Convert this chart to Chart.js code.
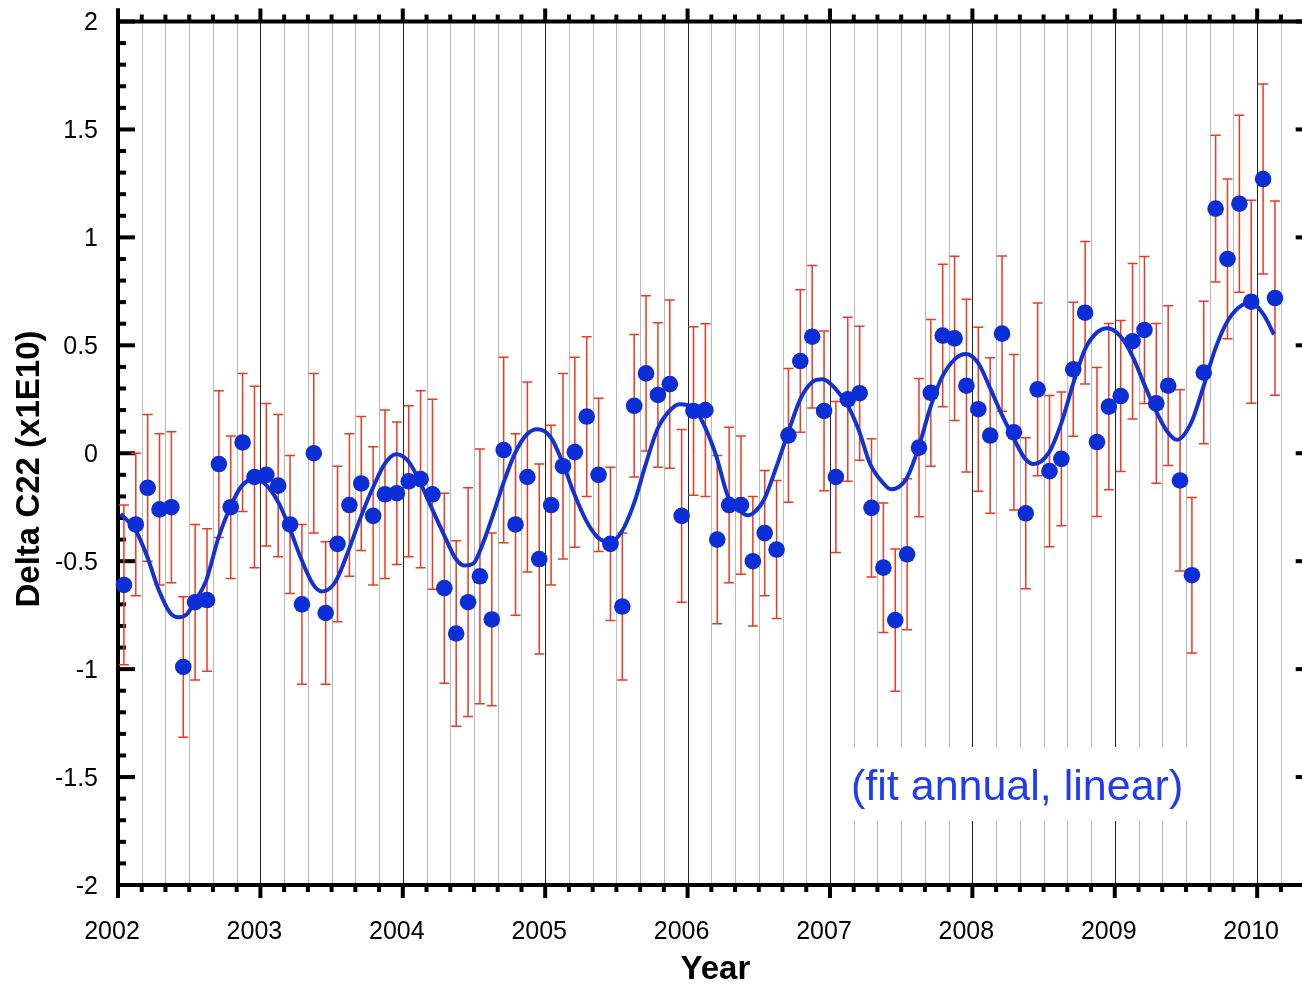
<!DOCTYPE html>
<html><head><meta charset="utf-8">
<script src="https://cdn.jsdelivr.net/npm/chart.js@4.4.1/dist/chart.umd.min.js"></script>
<style>
html,body{margin:0;padding:0;background:#fff;overflow:hidden;}
#wrap{position:absolute;left:0;top:0;width:1302px;height:990px;overflow:hidden;background:#fff;}
canvas{display:block;}
</style></head><body>
<div id="wrap"><canvas id="c" width="1330" height="990" style="width:1330px;height:990px"></canvas></div>
<script>
// ---- data ----
const months = [
 '2002-01','2002-02','2002-03','2002-04','2002-05','2002-06','2002-07','2002-08','2002-09','2002-10','2002-11','2002-12',
 '2003-01','2003-02','2003-03','2003-04','2003-05','2003-06','2003-07','2003-08','2003-09','2003-10','2003-11','2003-12',
 '2004-01','2004-02','2004-03','2004-04','2004-05','2004-06','2004-07','2004-08','2004-09','2004-10','2004-11','2004-12',
 '2005-01','2005-02','2005-03','2005-04','2005-05','2005-06','2005-07','2005-08','2005-09','2005-10','2005-11','2005-12',
 '2006-01','2006-02','2006-03','2006-04','2006-05','2006-06','2006-07','2006-08','2006-09','2006-10','2006-11','2006-12',
 '2007-01','2007-02','2007-03','2007-04','2007-05','2007-06','2007-07','2007-08','2007-09','2007-10','2007-11','2007-12',
 '2008-01','2008-02','2008-03','2008-04','2008-05','2008-06','2008-07','2008-08','2008-09','2008-10','2008-11','2008-12',
 '2009-01','2009-02','2009-03','2009-04','2009-05','2009-06','2009-07','2009-08','2009-09','2009-10','2009-11','2009-12',
 '2010-01','2010-02'
];
const deltaC22 = [
 -0.61,-0.33,-0.16,-0.26,-0.25,-0.99,-0.69,-0.68,-0.05,-0.25,0.05,-0.11,
 -0.10,-0.15,-0.33,-0.70,0.00,-0.74,-0.42,-0.24,-0.14,-0.29,-0.19,-0.185,
 -0.13,-0.12,-0.19,-0.625,-0.835,-0.69,-0.57,-0.77,0.015,-0.33,-0.11,-0.49,
 -0.24,-0.06,0.005,0.17,-0.10,-0.42,-0.71,0.22,0.37,0.27,0.32,-0.29,
 0.196,0.20,-0.40,-0.24,-0.24,-0.50,-0.37,-0.446,0.083,0.427,0.54,0.196,
 -0.11,0.25,0.278,-0.253,-0.53,-0.773,-0.468,0.026,0.28,0.545,0.532,0.313,
 0.204,0.082,0.554,0.097,-0.278,0.296,-0.083,-0.026,0.389,0.651,0.052,0.216,
 0.265,0.519,0.571,0.231,0.313,-0.126,-0.565,0.374,1.133,0.90,1.156,0.702,
 1.27,0.719
];
const errC22 = [
 0.37,0.33,0.34,0.35,0.35,0.325,0.36,0.33,0.34,0.33,0.32,0.42,
 0.33,0.33,0.32,0.37,0.37,0.33,0.36,0.33,0.31,0.32,0.39,0.33,
 0.35,0.41,0.44,0.44,0.43,0.53,0.59,0.40,0.43,0.42,0.44,0.44,
 0.37,0.43,0.44,0.37,0.355,0.355,0.34,0.33,0.36,0.335,0.39,0.40,
 0.39,0.40,0.39,0.36,0.32,0.30,0.29,0.32,0.31,0.33,0.33,0.37,
 0.35,0.38,0.31,0.32,0.30,0.33,0.35,0.32,0.34,0.33,0.38,0.40,
 0.38,0.36,0.36,0.36,0.35,0.40,0.35,0.31,0.31,0.33,0.345,0.385,
 0.35,0.36,0.34,0.37,0.37,0.42,0.36,0.33,0.34,0.37,0.41,0.47,
 0.44,0.45
];
const fitYears = [
 2002.02,2002.126,2002.203,2002.284,2002.367,2002.425,2002.484,2002.537,2002.619,2002.706,2002.788,2002.870,2002.952,
 2003.03,2003.128,2003.203,2003.287,2003.369,2003.432,2003.497,2003.537,2003.619,2003.708,2003.790,2003.872,2003.952,
 2004.036,2004.117,2004.200,2004.291,2004.373,2004.431,2004.497,2004.537,2004.621,2004.708,2004.790,2004.872,2004.946,
 2005.040,2005.122,2005.199,2005.286,2005.370,2005.452,2005.534,2005.625,2005.702,2005.788,2005.873,2005.943,
 2006.041,2006.119,2006.201,2006.283,2006.369,2006.421,2006.452,2006.538,2006.622,2006.702,2006.791,2006.876,2006.948,
 2007.042,2007.126,2007.200,2007.282,2007.371,2007.428,2007.535,2007.622,2007.704,2007.785,2007.875,2007.953,
 2008.039,2008.119,2008.206,2008.293,2008.370,2008.430,2008.537,2008.626,2008.710,2008.790,2008.874,2008.948,
 2009.038,2009.124,2009.202,2009.284,2009.366,2009.436,2009.537,2009.617,2009.704,2009.786,2009.868,2009.955,
 2010.043,2010.118
];
const fitValues = [
 -0.28,-0.36,-0.475,-0.63,-0.74,-0.76,-0.745,-0.69,-0.59,-0.39,-0.25,-0.15,-0.12,
 -0.14,-0.23,-0.344,-0.49,-0.606,-0.64,-0.62,-0.583,-0.45,-0.29,-0.16,-0.05,-0.005,
 -0.035,-0.128,-0.25,-0.38,-0.49,-0.52,-0.51,-0.46,-0.31,-0.136,0.003,0.088,0.111,
 0.073,-0.043,-0.18,-0.31,-0.39,-0.41,-0.367,-0.23,-0.06,0.111,0.196,0.227,
 0.211,0.126,-0.012,-0.198,-0.267,-0.287,-0.282,-0.213,-0.066,0.088,0.25,0.33,0.343,
 0.296,0.219,0.111,-0.05,-0.136,-0.167,-0.12,0.026,0.21,0.35,0.435,0.46,
 0.42,0.31,0.18,0.065,-0.025,-0.05,0.003,0.142,0.327,0.48,0.559,0.579,
 0.543,0.45,0.327,0.204,0.103,0.062,0.142,0.296,0.48,0.605,0.674,0.70,
 0.644,0.55
];
const xTickYears = [2002,2003,2004,2005,2006,2007,2008,2009,2010];
const yTickValues = [-2,-1.5,-1,-0.5,0,0.5,1,1.5,2];
const xTitle = 'Year';
const yTitle = 'Delta C22 (x1E10)';
const noteText = '(fit annual, linear)';

// ---- helpers ----
const FONT = "'Liberation Sans', Arial, Helvetica, sans-serif";
function monthToYear(s){ const p = s.split('-'); return +p[0] + (+p[1] - 0.5) / 12; }
const pointData = months.map((m, i) => ({x: monthToYear(m), y: deltaC22[i]}));
const fitData = fitYears.map((x, i) => ({x: x, y: fitValues[i]}));

const framePlugin = {
  id: 'frame',
  beforeDatasetsDraw(chart) {
    const ctx = chart.ctx, ca = chart.chartArea, xs = chart.scales.x, ys = chart.scales.y;
    ctx.save();
    // bimonthly dotted grid lines
    ctx.strokeStyle = '#777';
    ctx.lineWidth = 1;
    ctx.setLineDash([1, 1]);
    for (let yr = 2002; yr <= 2010; yr++) {
      for (let m = 2; m < 12; m += 2) {
        const v = yr + m / 12;
        if (v >= xs.max) continue;
        const px = Math.round(xs.getPixelForValue(v)) + 0.5;
        ctx.beginPath(); ctx.moveTo(px, ca.top); ctx.lineTo(px, ca.bottom); ctx.stroke();
      }
    }
    ctx.setLineDash([]);
    // year lines
    ctx.strokeStyle = '#222';
    for (let yr = 2003; yr <= 2010; yr++) {
      const px = Math.round(xs.getPixelForValue(yr)) + 0.5;
      ctx.beginPath(); ctx.moveTo(px, ca.top); ctx.lineTo(px, ca.bottom); ctx.stroke();
    }
    // note box
    ctx.fillStyle = '#fff';
    ctx.fillRect(846, 747, 344, 74);
    ctx.fillStyle = '#1f3cf2';
    ctx.font = '43px ' + FONT;
    ctx.textAlign = 'left';
    ctx.textBaseline = 'alphabetic';
    ctx.fillText(noteText, 851, 800);

    // axes frame
    ctx.fillStyle = '#000';
    const L = ca.left, R = ca.right, T = ca.top, B = ca.bottom;
    ctx.fillRect(L - 2, T - 13, 4, (B - T) + 26); // left axis
    ctx.fillRect(L - 2, T - 2, R - L + 4, 4);      // top axis
    ctx.fillRect(L - 2, B - 2, R - L + 4, 4);      // bottom axis
    ctx.fillRect(R - 2, T - 2, 4, B - T + 4);      // right axis
    // x ticks (top outward, bottom outward)
    for (let yr = 2002; yr <= 2010; yr++) {
      for (let m = 0; m < 12; m += 2) {
        const v = yr + m / 12;
        if (v > xs.max) continue;
        const px = xs.getPixelForValue(v);
        const len = m === 0 ? 13 : 7;
        ctx.fillRect(px - 2, T - len, 4, len);
        ctx.fillRect(px - 2, B, 4, len);
      }
    }
    // y ticks (inward, left and right)
    for (let k = -20; k <= 20; k++) {
      const v = k / 10;
      const py = ys.getPixelForValue(v);
      const len = (k % 5 === 0) ? 17 : 8;
      ctx.fillRect(L, py - 2, len, 4);
      ctx.fillRect(R - len, py - 2, len, 4);
    }
    // error bars
    ctx.strokeStyle = '#ec3a22';
    ctx.lineWidth = 1.5;
    pointData.forEach((p, i) => {
      const px = xs.getPixelForValue(p.x);
      const y1 = ys.getPixelForValue(p.y + errC22[i]);
      const y2 = ys.getPixelForValue(p.y - errC22[i]);
      ctx.beginPath();
      ctx.moveTo(px, y1); ctx.lineTo(px, y2);
      ctx.moveTo(px - 5, y1); ctx.lineTo(px + 5, y1);
      ctx.moveTo(px - 5, y2); ctx.lineTo(px + 5, y2);
      ctx.stroke();
    });
    ctx.restore();
  },
  afterDraw(chart) {
    const ctx = chart.ctx;
    ctx.save();
    ctx.translate(29.5, 469);
    ctx.rotate(-Math.PI / 2);
    ctx.fillStyle = '#000';
    ctx.font = 'bold 33px ' + FONT;
    ctx.textAlign = 'center';
    ctx.textBaseline = 'middle';
    ctx.fillText(yTitle, 0, 0);
    ctx.restore();
  }
};

new Chart(document.getElementById('c'), {
  type: 'scatter',
  data: {
    datasets: [
      {
        label: 'Delta C22',
        data: pointData,
        order: 0,
        pointRadius: 8.3,
        pointHoverRadius: 8.3,
        backgroundColor: '#0b2ed6',
        borderWidth: 0,
        clip: false
      },
      {
        type: 'line',
        label: 'fit',
        data: fitData,
        order: 1,
        borderColor: '#1232d4',
        borderWidth: 4,
        pointRadius: 0,
        fill: false,
        cubicInterpolationMode: 'monotone',
        clip: false
      }
    ]
  },
  options: {
    responsive: false,
    devicePixelRatio: 1,
    animation: false,
    events: [],
    layout: { padding: { left: 0, top: 21.5, right: 17.3, bottom: 0 } },
    plugins: { legend: { display: false }, tooltip: { enabled: false } },
    scales: {
      x: {
        type: 'linear',
        position: 'bottom',
        min: 2002,
        max: 2010.39,
        afterFit(s) { s.height = 105; s.paddingLeft = 0; s.paddingRight = 0; },
        afterBuildTicks(s) { s.ticks = xTickYears.map(v => ({value: v})); },
        grid: { display: false, drawTicks: false },
        border: { display: false },
        ticks: {
          autoSkip: false, maxRotation: 0, minRotation: 0,
          padding: 32, labelOffset: -6,
          color: '#000',
          font: { family: FONT, size: 25 },
          callback: v => String(v)
        },
        title: {
          display: true, text: xTitle, color: '#000',
          font: { family: FONT, size: 33, weight: 'bold' },
          padding: { top: 0, bottom: 0 }
        }
      },
      y: {
        min: -2,
        max: 2,
        afterFit(s) { s.width = 118; s.paddingTop = 0; s.paddingBottom = 0; },
        afterBuildTicks(s) { s.ticks = yTickValues.map(v => ({value: v})); },
        grid: { display: false, drawTicks: false },
        border: { display: false },
        ticks: {
          padding: 20, labelOffset: 2,
          color: '#000',
          font: { family: FONT, size: 25 },
          callback: v => String(v)
        }
      }
    }
  },
  plugins: [framePlugin]
});
</script>
</body></html>
